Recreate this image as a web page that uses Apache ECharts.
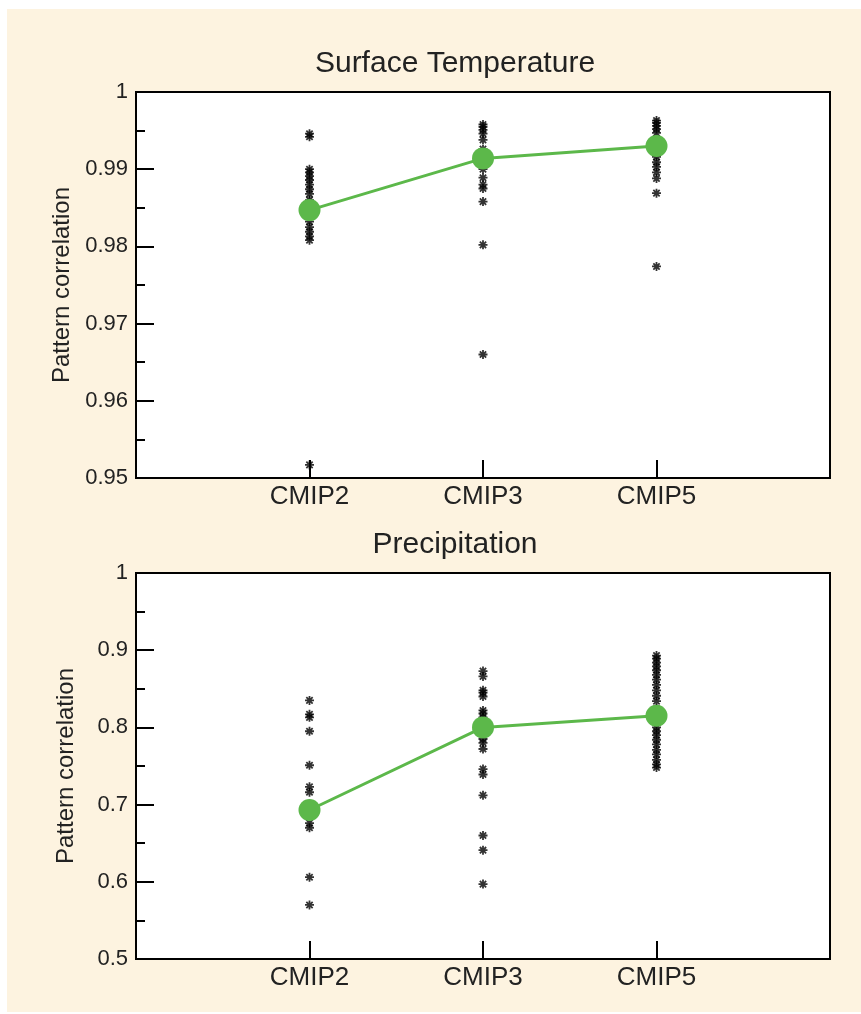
<!DOCTYPE html>
<html>
<head>
<meta charset="utf-8">
<script src="https://cdn.jsdelivr.net/npm/echarts@6/dist/echarts.min.js"></script>
<style>
  html, body { margin: 0; padding: 0; background: #fff; }
  #bg { position: absolute; left: 7px; top: 9px; width: 854px; height: 1003px; background: #fdf3e0; }
  #chart { position: absolute; left: 0; top: 0; width: 861px; height: 1014px; }
</style>
</head>
<body>
<div id="bg"></div>
<div id="chart"></div>
<script>
const categories = ['CMIP2', 'CMIP3', 'CMIP5']

// Surface temperature: pattern correlation per model
const tempCmip2 = [0.9946, 0.9942, 0.9900, 0.9896, 0.9891, 0.9886, 0.9880, 0.9874, 0.9868, 0.9860,
  0.9852, 0.9840, 0.9832, 0.9825, 0.9819, 0.9813, 0.9808, 0.9517]
const tempCmip3 = [0.9958, 0.9955, 0.9951, 0.9946, 0.9938, 0.9926, 0.9900, 0.9889, 0.9880, 0.9875,
  0.9858, 0.9802, 0.9660]
const tempCmip5 = [0.9963, 0.9960, 0.9956, 0.9952, 0.9947, 0.9936, 0.9924, 0.9916, 0.9909, 0.9903,
  0.9896, 0.9888, 0.9869, 0.9774]
const tempMeans = [0.9847, 0.9914, 0.9930]

// Precipitation: pattern correlation per model
const precipCmip2 = [0.835, 0.817, 0.813, 0.795, 0.751, 0.723, 0.716, 0.700, 0.690, 0.676, 0.670,
  0.606, 0.570]
const precipCmip3 = [0.873, 0.866, 0.848, 0.845, 0.840, 0.822, 0.818, 0.813, 0.805, 0.793, 0.785,
  0.780, 0.772, 0.746, 0.739, 0.712, 0.660, 0.641, 0.597]
const precipCmip5 = [0.893, 0.889, 0.884, 0.879, 0.874, 0.868, 0.862, 0.855, 0.848, 0.841, 0.834,
  0.824, 0.808, 0.800, 0.795, 0.790, 0.784, 0.778, 0.771, 0.765, 0.758, 0.752, 0.748]
const precipMeans = [0.693, 0.800, 0.815]

const titles = ['Surface Temperature', 'Precipitation']

// asterisk made from 4 crossing bars
const asterisk = 'path://M4,0L6,0L6,10L4,10Z M0,4L10,4L10,6L0,6Z ' +
  'M2.2,0.8L9.2,7.8L7.8,9.2L0.8,2.2Z M9.2,2.2L2.2,9.2L0.8,7.8L7.8,0.8Z'

function toPoints(values, i) {
  return values.map(v => [i + 1, v])
}

const chart = echarts.init(document.getElementById('chart'))

const tops = [92, 573]
const yRanges = [[0.95, 1, 0.01], [0.5, 1, 0.1]]
const groups = [[tempCmip2, tempCmip3, tempCmip5], [precipCmip2, precipCmip3, precipCmip5]]
const means = [tempMeans, precipMeans]

const font = 'Liberation Sans, Arial, Helvetica, sans-serif'

const options = {
  animation: false,
  backgroundColor: 'transparent',
  title: titles.map((t, i) => ({
    text: t,
    left: 450,
    textAlign: 'center',
    top: tops[i] - 48,
    textStyle: { fontFamily: font, fontSize: 30, fontWeight: 'normal', color: '#222' }
  })),
  grid: tops.map(top => ({
    left: 136,
    top: top,
    width: 694,
    height: 386,
    show: true,
    backgroundColor: '#fff',
    borderColor: '#000',
    borderWidth: 2
  })),
  xAxis: tops.map((t, i) => ({
    type: 'value',
    gridIndex: i,
    min: 0,
    max: 4,
    interval: 1,
    axisLine: { show: true, lineStyle: { color: '#000', width: 2 } },
    axisTick: { inside: true, length: 18, lineStyle: { color: '#000', width: 2 } },
    axisLabel: {
      margin: 6,
      fontFamily: font,
      fontSize: 26,
      color: '#222',
      formatter: v => categories[v - 1] || ''
    },
    splitLine: { show: false }
  })),
  yAxis: yRanges.map((r, i) => ({
    type: 'value',
    gridIndex: i,
    min: r[0],
    max: r[1],
    interval: r[2],
    name: 'Pattern correlation',
    nameLocation: 'middle',
    nameGap: 58,
    nameTextStyle: { fontFamily: font, fontSize: 24, color: '#222' },
    axisLine: { show: true, lineStyle: { color: '#000', width: 2 } },
    axisTick: { show: true, inside: true, length: 18, lineStyle: { color: '#000', width: 2 } },
    minorTick: { show: true, splitNumber: 2, length: 9, lineStyle: { color: '#000', width: 2 } },
    axisLabel: { margin: 8, fontFamily: font, fontSize: 22, color: '#222' },
    splitLine: { show: false }
  })),
  series: []
}

groups.forEach((g, i) => {
  g.forEach((values, j) => {
    options.series.push({
      type: 'scatter',
      xAxisIndex: i,
      yAxisIndex: i,
      symbol: asterisk,
      symbolSize: 9,
      itemStyle: { color: '#000' },
      data: toPoints(values, j),
      z: 2
    })
  })
  options.series.push({
    type: 'line',
    xAxisIndex: i,
    yAxisIndex: i,
    symbol: 'circle',
    symbolSize: 22,
    lineStyle: { color: '#5cb84a', width: 3 },
    itemStyle: { color: '#5cb84a' },
    data: means[i].map((v, j) => [j + 1, v]),
    z: 5
  })
})

chart.setOption(options)
</script>
</body>
</html>
